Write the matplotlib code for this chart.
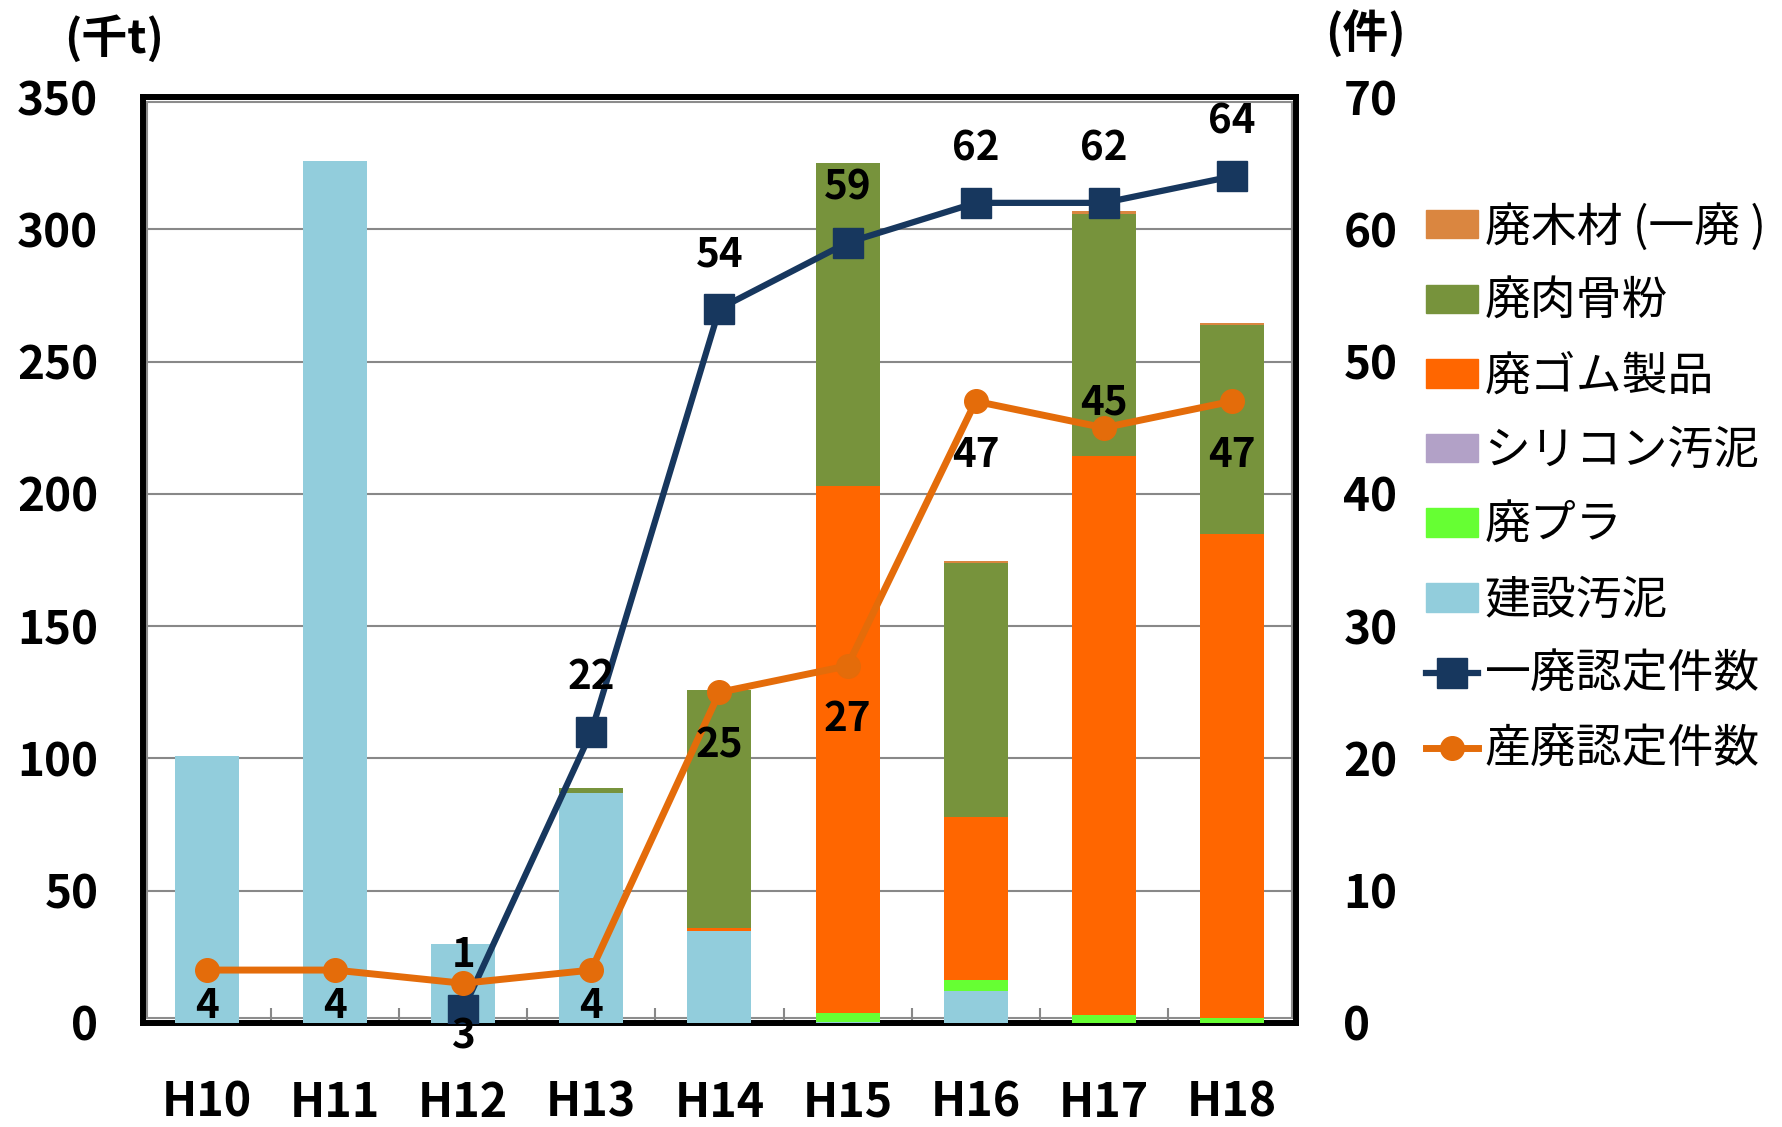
import matplotlib
matplotlib.use("Agg")
import matplotlib.pyplot as plt
from matplotlib.patches import Patch, Rectangle
from matplotlib.lines import Line2D
import numpy as np

plt.rcParams['font.family'] = ['Noto Sans CJK JP', 'DejaVu Sans']

categories = ["H10", "H11", "H12", "H13", "H14", "H15", "H16", "H17", "H18"]
# stacked bars (千t), bottom to top
kensetsu_odei = [101, 326, 30, 87, 34.8, 0.4, 12, 0, 0]        # 建設汚泥
haipura = [0, 0, 0, 0, 0, 3.5, 4.3, 2.9, 1.9]                 # 廃プラ
silicon_odei = [0, 0, 0, 0, 0, 0, 0, 0, 0]                    # シリコン汚泥
haigomu = [0, 0, 0, 0, 1.0, 199, 61.5, 211.5, 183]            # 廃ゴム製品
nikukotsufun = [0, 0, 0, 2, 90, 122, 96, 91.5, 79]            # 廃肉骨粉
haimokuzai = [0, 0, 0, 0, 0, 0, 1, 1.2, 0.8]                  # 廃木材（一廃）
# lines (件)
ippai_count = [np.nan, np.nan, 1, 22, 54, 59, 62, 62, 64]     # 一廃認定件数
sanpai_count = [4, 4, 3, 4, 25, 27, 47, 45, 47]               # 産廃認定件数

left_ticks = [0, 50, 100, 150, 200, 250, 300, 350]
right_ticks = [0, 10, 20, 30, 40, 50, 60, 70]

# label offsets in points (style only)
ippai_off = [0, 0, 39, 39, 39, 39, 39, 39, 39]
sanpai_off = [-26, -26, -39, -26, -39, -39, -39, 18, -39]

colors = {
    "kensetsu": "#92CDDC",
    "pura": "#66FF33",
    "silicon": "#B2A1C7",
    "gomu": "#FF6600",
    "niku": "#77933C",
    "mokuzai": "#DA8640",
    "ippai": "#17375E",
    "sanpai": "#E46C0A",
}

fig = plt.figure(figsize=(17.83, 11.27), dpi=100)
ax_pos = [0.0801, 0.0923, 0.6468, 0.8216]

# inner gray frame line (drawn beneath the transparent axes)
W, H = fig.get_size_inches() * fig.dpi
x0, y0 = ax_pos[0] * W, ax_pos[1] * H
inset = 4.5
fig.patches.append(Rectangle((x0 + inset, y0 + inset), ax_pos[2] * W - 2 * inset,
                             ax_pos[3] * H - 2 * inset, transform=None, fill=False,
                             edgecolor='#8c8c8c', linewidth=1.5, zorder=-1))

ax = fig.add_axes(ax_pos)
ax.patch.set_visible(False)
x = np.arange(len(categories))
w = 0.5

series = [
    (kensetsu_odei, colors["kensetsu"]),
    (haipura, colors["pura"]),
    (silicon_odei, colors["silicon"]),
    (haigomu, colors["gomu"]),
    (nikukotsufun, colors["niku"]),
    (haimokuzai, colors["mokuzai"]),
]
bottom = np.zeros(len(categories))
for vals, c in series:
    v = np.array(vals, dtype=float)
    ax.bar(x, v, w, bottom=bottom, color=c, edgecolor='none', zorder=2)
    bottom += v

ax.set_xlim(-0.5, len(categories) - 0.5)
ax.set_ylim(0, 350)
ax.set_yticks(left_ticks)
ax.set_yticklabels([str(t) for t in left_ticks], fontsize=33, fontweight='bold')
ax.set_xticks(x)
ax.set_xticklabels(categories, fontsize=33.5, fontweight='bold')
ax.tick_params(axis='x', length=0, pad=40)
ax.tick_params(axis='y', length=0, pad=32)
ax.set_xticks(np.arange(0.5, len(categories) - 1, 1), minor=True)
ax.tick_params(axis='x', which='minor', direction='in', length=11, width=1.5, color='#888888')
ax.yaxis.grid(True, color='#888888', linewidth=1.5)
ax.set_axisbelow(True)
for name, s in ax.spines.items():
    s.set_linewidth(4.3)
    s.set_color('black')
    s.set_zorder(1 if name == 'bottom' else 6)

ax2 = ax.twinx()
ax2.set_ylim(0, 70)
ax2.set_yticks(right_ticks)
ax2.set_yticklabels([str(t) for t in right_ticks], fontsize=33, fontweight='bold')
ax2.tick_params(axis='y', length=0, pad=34)
for s in ax2.spines.values():
    s.set_visible(False)

ax2.plot(x, ippai_count, color=colors["ippai"], lw=4.5, marker='s', markersize=21,
         zorder=3)
ax2.plot(x, sanpai_count, color=colors["sanpai"], lw=5, marker='o', markersize=17,
         zorder=4)

for xi, v, off in zip(x, ippai_count, ippai_off):
    if not np.isnan(v):
        ax2.annotate(str(int(v)), (xi, v), xytext=(0, off), textcoords='offset points',
                     ha='center', va='center', fontsize=29, fontweight='bold', zorder=5)
for xi, v, off in zip(x, sanpai_count, sanpai_off):
    ax2.annotate(str(int(v)), (xi, v), xytext=(0, off), textcoords='offset points',
                 ha='center', va='center', fontsize=29, fontweight='bold', zorder=5)

fig.text(0.064, 0.965, "(千t)", fontsize=33, fontweight='bold', ha='center', va='center')
fig.text(0.766, 0.970, "(件)", fontsize=33, fontweight='bold', ha='center', va='center')

handles = [
    Patch(color=colors["mokuzai"]),
    Patch(color=colors["niku"]),
    Patch(color=colors["gomu"]),
    Patch(color=colors["silicon"]),
    Patch(color=colors["pura"]),
    Patch(color=colors["kensetsu"]),
    Line2D([], [], color=colors["ippai"], lw=4.5, marker='s', markersize=21),
    Line2D([], [], color=colors["sanpai"], lw=5, marker='o', markersize=17),
]
labels = ["廃木材 (一廃 )", "廃肉骨粉", "廃ゴム製品", "シリコン汚泥", "廃プラ", "建設汚泥",
          "一廃認定件数", "産廃認定件数"]
fig.legend(handles, labels, loc='upper left', bbox_to_anchor=(0.800, 0.820),
           frameon=False, fontsize=33, handlelength=1.12, handleheight=0.58,
           handletextpad=0.15, labelspacing=0.57, borderpad=0, borderaxespad=0)

fig.savefig("out.png", dpi=100)
